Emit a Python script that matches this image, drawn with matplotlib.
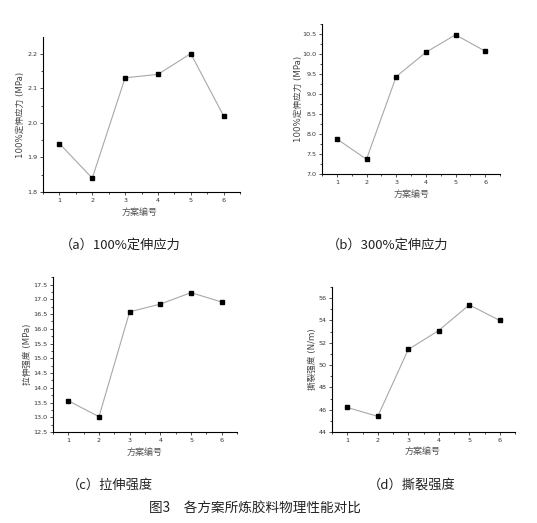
import matplotlib
matplotlib.use("Agg")
import matplotlib.pyplot as plt
from matplotlib.ticker import MultipleLocator, AutoMinorLocator, FormatStrFormatter

plt.rcParams['font.family'] = ['DejaVu Sans', 'Noto Sans CJK SC']

# 数据
fangan = [1, 2, 3, 4, 5, 6]
dingshen_100 = [1.94, 1.84, 2.13, 2.14, 2.20, 2.02]
dingshen_300 = [7.88, 7.37, 9.44, 10.05, 10.49, 10.08]
lashen = [13.56, 13.02, 16.58, 16.84, 17.23, 16.91]
silie = [46.2, 45.4, 51.4, 53.1, 55.4, 54.0]

ylabels = ["100%定伸应力 (MPa)", "100%定伸应力 (MPa)", "拉伸强度 (MPa)", "撕裂强度 (N/m)"]
captions = ["（a）100%定伸应力", "（b）300%定伸应力", "（c）拉伸强度", "（d）撕裂强度"]
titulo = "图3　各方案所炼胶料物理性能对比"

W, H = 537, 523
fig = plt.figure(figsize=(W / 100, H / 100), dpi=100)


def caixa(x0, x1, y0, y1):
    # pixel -> fração da figura
    return [x0 / W, 1 - y1 / H, (x1 - x0) / W, (y1 - y0) / H]


paineis = [
    (dingshen_100, caixa(43, 240, 37, 192), (1.8, 2.248), 0.1, 20, 212, 140),
    (dingshen_300, caixa(322, 500, 24, 174), (7.0, 10.76), 0.5, 298, 194, 412),
    (lashen, caixa(53, 237, 277, 432), (12.5, 17.76), 0.5, 27, 452, 145),
    (silie, caixa(332, 515, 287, 432), (44, 57), 2, 312, 451, 423),
]

for i, (vals, pos, ylim, passo, lx, xly, xlx) in enumerate(paineis):
    ax = fig.add_axes(pos)
    ax.plot(fangan, vals, color='#a8a8a8', lw=0.8, marker='s', ms=3.5,
            mfc='black', mec='black', zorder=3)
    ax.set_xlim(0.5, 6.5)
    ax.set_ylim(*ylim)
    ax.set_xticks(fangan)
    ax.xaxis.set_minor_locator(MultipleLocator(0.5))
    ax.yaxis.set_major_locator(MultipleLocator(passo))
    ax.yaxis.set_minor_locator(AutoMinorLocator(2))
    if passo < 1:
        ax.yaxis.set_major_formatter(FormatStrFormatter('%.1f'))
    for s in ['top', 'right']:
        ax.spines[s].set_visible(False)
    for s in ['left', 'bottom']:
        ax.spines[s].set_linewidth(0.8)
    ax.tick_params(which='major', direction='out', length=2.5, width=0.6,
                   labelsize=4.6, pad=1.5, colors='#333333')
    ax.tick_params(which='minor', direction='out', length=1.5, width=0.5)
    # rótulos dos eixos
    yc = pos[1] + pos[3] / 2
    fig.text(lx / W, yc, ylabels[i], rotation=90, ha='center', va='center',
             fontsize=6.2, color='#444444')
    fig.text(xlx / W, 1 - xly / H, "方案编号", ha='center', va='center',
             fontsize=6.5, color='#555555')

cap_pos = [(120, 245), (388, 245), (110, 485), (412, 485)]
for (cx, cy), c in zip(cap_pos, captions):
    fig.text(cx / W, 1 - cy / H, c, ha='center', va='center', fontsize=9.5,
             family=['Noto Sans CJK SC', 'DejaVu Sans'], color='#222222')

fig.text(255 / W, 1 - 508 / H, titulo, ha='center', va='center', fontsize=9.8,
         family=['Noto Sans CJK SC', 'DejaVu Sans'], color='#222222')

fig.savefig("out.png", dpi=100, facecolor='white')
